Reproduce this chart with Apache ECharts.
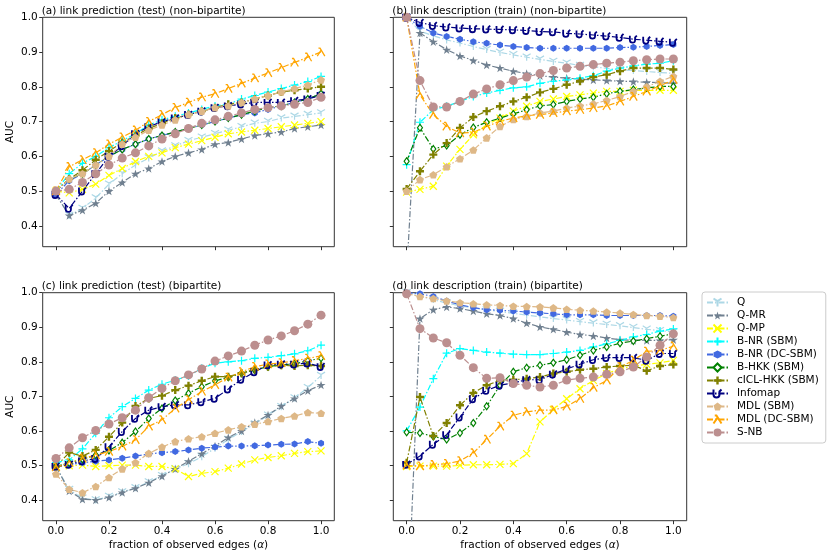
<!DOCTYPE html>
<html>
<head>
<meta charset="utf-8">
<script src="https://cdn.jsdelivr.net/npm/echarts@6/dist/echarts.min.js"></script>
<style>
  html, body { margin: 0; padding: 0; background: #fff; }
  #main { width: 830px; height: 557px; }
</style>
</head>
<body>
<div id="main"></div>
<script>
// fraction of observed edges
const alphas = [0, 0.05, 0.1, 0.15, 0.2, 0.25, 0.3, 0.35, 0.4, 0.45, 0.5, 0.55, 0.6, 0.65, 0.7, 0.75, 0.8, 0.85, 0.9, 0.95, 1.0];
const xTicks = [0, 0.2, 0.4, 0.6, 0.8, 1.0];
const yTicks = [0.4, 0.5, 0.6, 0.7, 0.8, 0.9, 1.0];
const methods = ['Q', 'Q-MR', 'Q-MP', 'B-NR (SBM)', 'B-NR (DC-SBM)', 'B-HKK (SBM)', 'cICL-HKK (SBM)', 'Infomap', 'MDL (SBM)', 'MDL (DC-SBM)', 'S-NB'];
const titles = ['(a) link prediction (test) (non-bipartite)', '(b) link description (train) (non-bipartite)',
                '(c) link prediction (test) (bipartite)', '(d) link description (train) (bipartite)'];

// (a) link prediction, non-bipartite
const aQ      = [0.49, 0.43, 0.45, 0.48, 0.52, 0.55, 0.575, 0.595, 0.615, 0.63, 0.645, 0.655, 0.665, 0.675, 0.685, 0.695, 0.70, 0.71, 0.715, 0.72, 0.725];
const aQMR    = [0.49, 0.43, 0.445, 0.465, 0.50, 0.525, 0.55, 0.565, 0.585, 0.60, 0.61, 0.62, 0.635, 0.64, 0.65, 0.66, 0.665, 0.67, 0.68, 0.685, 0.69];
const aQMP    = [0.50, 0.495, 0.505, 0.52, 0.545, 0.565, 0.585, 0.60, 0.61, 0.625, 0.635, 0.645, 0.655, 0.665, 0.67, 0.675, 0.68, 0.685, 0.69, 0.695, 0.70];
const aBNR    = [0.50, 0.55, 0.58, 0.60, 0.625, 0.645, 0.665, 0.69, 0.705, 0.715, 0.725, 0.735, 0.745, 0.75, 0.765, 0.775, 0.785, 0.795, 0.805, 0.815, 0.83];
const aBNRDC  = [0.49, 0.53, 0.55, 0.575, 0.60, 0.62, 0.635, 0.65, 0.66, 0.67, 0.68, 0.69, 0.70, 0.71, 0.72, 0.725, 0.735, 0.745, 0.755, 0.765, 0.78];
const aBHKK   = [0.50, 0.535, 0.55, 0.575, 0.60, 0.62, 0.635, 0.65, 0.66, 0.67, 0.68, 0.69, 0.70, 0.71, 0.72, 0.73, 0.74, 0.745, 0.755, 0.765, 0.78];
const aCICL   = [0.50, 0.535, 0.56, 0.59, 0.615, 0.64, 0.66, 0.68, 0.695, 0.71, 0.72, 0.73, 0.74, 0.75, 0.755, 0.765, 0.775, 0.785, 0.79, 0.795, 0.80];
const aInfo   = [0.49, 0.45, 0.50, 0.55, 0.60, 0.63, 0.665, 0.685, 0.70, 0.71, 0.72, 0.73, 0.74, 0.745, 0.75, 0.755, 0.755, 0.755, 0.76, 0.765, 0.775];
const aMDL    = [0.50, 0.535, 0.55, 0.575, 0.60, 0.635, 0.655, 0.675, 0.69, 0.705, 0.72, 0.73, 0.74, 0.745, 0.755, 0.765, 0.775, 0.785, 0.795, 0.805, 0.82];
const aMDLDC  = [0.50, 0.57, 0.59, 0.61, 0.635, 0.655, 0.675, 0.70, 0.72, 0.74, 0.755, 0.77, 0.78, 0.795, 0.81, 0.825, 0.84, 0.855, 0.87, 0.885, 0.90];
const aSNB    = [0.50, 0.505, 0.525, 0.55, 0.575, 0.595, 0.61, 0.63, 0.65, 0.665, 0.68, 0.695, 0.705, 0.715, 0.725, 0.735, 0.74, 0.745, 0.75, 0.755, 0.77];

// (b) link description, non-bipartite
const bQ      = [1.0, 0.96, 0.947, 0.935, 0.926, 0.916, 0.907, 0.899, 0.892, 0.885, 0.879, 0.873, 0.868, 0.861, 0.858, 0.853, 0.849, 0.847, 0.844, 0.841, 0.839];
const bQMR    = [0.26, 0.955, 0.93, 0.907, 0.889, 0.876, 0.863, 0.854, 0.845, 0.838, 0.832, 0.828, 0.825, 0.822, 0.82, 0.818, 0.816, 0.815, 0.813, 0.812, 0.81];
const bQMP    = [0.497, 0.505, 0.514, 0.572, 0.62, 0.662, 0.691, 0.71, 0.73, 0.744, 0.758, 0.765, 0.772, 0.777, 0.782, 0.787, 0.787, 0.79, 0.79, 0.79, 0.79];
const bBNR    = [0.576, 0.698, 0.734, 0.744, 0.758, 0.772, 0.782, 0.79, 0.797, 0.80, 0.81, 0.816, 0.82, 0.825, 0.832, 0.845, 0.854, 0.86, 0.865, 0.868, 0.875];
const bBNRDC  = [1.0, 0.974, 0.955, 0.945, 0.937, 0.93, 0.925, 0.92, 0.916, 0.913, 0.911, 0.911, 0.911, 0.911, 0.911, 0.911, 0.913, 0.914, 0.916, 0.919, 0.922];
const bBHKK   = [0.586, 0.682, 0.621, 0.631, 0.662, 0.683, 0.698, 0.71, 0.722, 0.734, 0.745, 0.749, 0.758, 0.765, 0.77, 0.78, 0.787, 0.792, 0.797, 0.801, 0.801];
const bCICL   = [0.506, 0.557, 0.605, 0.638, 0.682, 0.713, 0.73, 0.744, 0.758, 0.77, 0.784, 0.794, 0.806, 0.816, 0.828, 0.835, 0.845, 0.854, 0.854, 0.854, 0.85];
const bInfo   = [1.0, 0.985, 0.976, 0.972, 0.969, 0.967, 0.966, 0.965, 0.964, 0.962, 0.959, 0.958, 0.954, 0.952, 0.949, 0.946, 0.942, 0.937, 0.934, 0.931, 0.928];
const bMDL    = [0.50, 0.533, 0.547, 0.57, 0.593, 0.618, 0.653, 0.686, 0.706, 0.715, 0.725, 0.73, 0.739, 0.745, 0.751, 0.761, 0.772, 0.787, 0.80, 0.816, 0.83];
const bMDLDC  = [1.0, 0.777, 0.72, 0.686, 0.667, 0.669, 0.686, 0.701, 0.71, 0.717, 0.72, 0.725, 0.73, 0.734, 0.739, 0.745, 0.758, 0.772, 0.787, 0.803, 0.82];
const bSNB    = [1.0, 0.818, 0.742, 0.742, 0.758, 0.779, 0.794, 0.806, 0.818, 0.828, 0.838, 0.847, 0.854, 0.859, 0.864, 0.868, 0.871, 0.875, 0.878, 0.88, 0.88];

// (c) link prediction, bipartite
const cQ      = [0.497, 0.43, 0.405, 0.40, 0.41, 0.423, 0.435, 0.452, 0.47, 0.49, 0.505, 0.525, 0.55, 0.575, 0.598, 0.62, 0.645, 0.67, 0.695, 0.725, 0.76];
const cQMR    = [0.497, 0.426, 0.402, 0.40, 0.407, 0.422, 0.434, 0.45, 0.469, 0.49, 0.512, 0.534, 0.556, 0.581, 0.60, 0.624, 0.646, 0.672, 0.694, 0.716, 0.733];
const cQMP    = [0.497, 0.499, 0.501, 0.497, 0.499, 0.501, 0.501, 0.497, 0.497, 0.49, 0.468, 0.477, 0.482, 0.492, 0.504, 0.516, 0.523, 0.528, 0.535, 0.54, 0.542];
const cBNR    = [0.508, 0.516, 0.548, 0.593, 0.638, 0.67, 0.694, 0.718, 0.735, 0.747, 0.759, 0.781, 0.796, 0.80, 0.803, 0.81, 0.813, 0.818, 0.823, 0.832, 0.848];
const cBNRDC  = [0.497, 0.502, 0.508, 0.512, 0.516, 0.521, 0.527, 0.533, 0.537, 0.54, 0.545, 0.55, 0.553, 0.556, 0.556, 0.557, 0.559, 0.561, 0.562, 0.569, 0.564];
const cBHKK   = [0.497, 0.507, 0.518, 0.53, 0.543, 0.566, 0.598, 0.636, 0.665, 0.688, 0.709, 0.728, 0.745, 0.755, 0.767, 0.776, 0.786, 0.791, 0.794, 0.803, 0.81];
const cCICL   = [0.497, 0.537, 0.527, 0.545, 0.583, 0.624, 0.672, 0.694, 0.702, 0.718, 0.731, 0.745, 0.757, 0.757, 0.767, 0.778, 0.786, 0.79, 0.788, 0.79, 0.788];
const cInfo   = [0.497, 0.503, 0.513, 0.52, 0.554, 0.598, 0.636, 0.66, 0.67, 0.675, 0.675, 0.684, 0.694, 0.721, 0.749, 0.771, 0.791, 0.793, 0.793, 0.796, 0.786];
const cMDL    = [0.475, 0.431, 0.421, 0.439, 0.465, 0.49, 0.508, 0.535, 0.553, 0.569, 0.577, 0.583, 0.593, 0.603, 0.612, 0.619, 0.627, 0.636, 0.643, 0.653, 0.651];
const cMDLDC  = [0.495, 0.507, 0.52, 0.53, 0.54, 0.555, 0.574, 0.613, 0.632, 0.665, 0.69, 0.714, 0.733, 0.755, 0.771, 0.786, 0.793, 0.797, 0.803, 0.81, 0.817];
const cSNB    = [0.52, 0.551, 0.58, 0.601, 0.62, 0.638, 0.66, 0.696, 0.723, 0.745, 0.762, 0.779, 0.802, 0.817, 0.831, 0.848, 0.863, 0.875, 0.89, 0.909, 0.935];

// (d) link description, bipartite
const dQ      = [1.0, 0.99, 0.98, 0.97, 0.962, 0.956, 0.95, 0.946, 0.94, 0.935, 0.93, 0.925, 0.921, 0.916, 0.912, 0.908, 0.904, 0.899, 0.894, 0.89, 0.887];
const dQMR    = [0.0, 0.925, 0.951, 0.959, 0.954, 0.947, 0.939, 0.934, 0.925, 0.912, 0.901, 0.894, 0.886, 0.879, 0.875, 0.869, 0.864, 0.862, 0.862, 0.862, 0.864];
const dQMP    = [0.497, 0.498, 0.498, 0.498, 0.50, 0.502, 0.502, 0.503, 0.505, 0.534, 0.626, 0.662, 0.693, 0.722, 0.746, 0.766, 0.78, 0.787, 0.793, 0.797, 0.804];
const dBNR    = [0.60, 0.669, 0.751, 0.825, 0.838, 0.833, 0.828, 0.825, 0.822, 0.821, 0.821, 0.824, 0.828, 0.833, 0.843, 0.852, 0.862, 0.872, 0.879, 0.889, 0.895];
const dBNRDC  = [1.0, 0.997, 0.989, 0.976, 0.965, 0.957, 0.951, 0.949, 0.947, 0.944, 0.941, 0.939, 0.936, 0.936, 0.936, 0.934, 0.934, 0.934, 0.934, 0.934, 0.932];
const dBHKK   = [0.596, 0.594, 0.584, 0.575, 0.594, 0.623, 0.671, 0.732, 0.771, 0.783, 0.79, 0.797, 0.806, 0.819, 0.833, 0.843, 0.854, 0.86, 0.867, 0.874, 0.881];
const dCICL   = [0.508, 0.698, 0.585, 0.623, 0.674, 0.71, 0.732, 0.746, 0.748, 0.751, 0.756, 0.766, 0.771, 0.777, 0.78, 0.785, 0.788, 0.79, 0.774, 0.788, 0.792];
const dInfo   = [0.503, 0.527, 0.561, 0.589, 0.64, 0.693, 0.717, 0.732, 0.739, 0.748, 0.748, 0.764, 0.779, 0.793, 0.806, 0.812, 0.812, 0.812, 0.804, 0.824, 0.824];
const dMDL    = [0.997, 0.989, 0.983, 0.976, 0.971, 0.968, 0.965, 0.963, 0.961, 0.96, 0.959, 0.956, 0.952, 0.949, 0.947, 0.944, 0.941, 0.937, 0.934, 0.932, 0.928];
const dMDLDC  = [0.50, 0.498, 0.502, 0.505, 0.513, 0.536, 0.575, 0.613, 0.645, 0.655, 0.66, 0.66, 0.671, 0.693, 0.725, 0.746, 0.785, 0.804, 0.83, 0.833, 0.845];
const dSNB    = [0.997, 0.896, 0.869, 0.855, 0.819, 0.783, 0.752, 0.754, 0.737, 0.732, 0.727, 0.732, 0.747, 0.752, 0.756, 0.764, 0.771, 0.785, 0.814, 0.848, 0.881];

const panels = [
  [aQ, aQMR, aQMP, aBNR, aBNRDC, aBHKK, aCICL, aInfo, aMDL, aMDLDC, aSNB],
  [bQ, bQMR, bQMP, bBNR, bBNRDC, bBHKK, bCICL, bInfo, bMDL, bMDLDC, bSNB],
  [cQ, cQMR, cQMP, cBNR, cBNRDC, cBHKK, cCICL, cInfo, cMDL, cMDLDC, cSNB],
  [dQ, dQMR, dQMP, dBNR, dBNRDC, dBHKK, dCICL, dInfo, dMDL, dMDLDC, dSNB]
];

// marker / colour per method (matplotlib-like); "stroke" markers are outlines only
const looks = [
  { color: '#add8e6', symbol: 'path://M5,5 L5,10 M5,5 L0.7,2.5 M5,5 L9.3,2.5', size: 8, stroke: 1.2 },
  { color: '#708090', symbol: 'path://M50,0 L61,35 L98,35 L68,57 L79,91 L50,70 L21,91 L32,57 L2,35 L39,35 Z', size: 9 },
  { color: '#ffff00', symbol: 'path://M0,0 L10,10 M10,0 L0,10', size: 7, stroke: 1.2 },
  { color: '#00ffff', symbol: 'path://M5,0 L5,10 M0,5 L10,5', size: 8, stroke: 1.2 },
  { color: '#4169e1', symbol: 'path://M50,0 L93,25 L93,75 L50,100 L7,75 L7,25 Z', size: 7 },
  { color: '#008000', symbol: 'diamond', size: [5, 7], hollow: true },
  { color: '#808000', symbol: 'path://M35,0 H65 V35 H100 V65 H65 V100 H35 V65 H0 V35 H35 Z', size: 8 },
  { color: '#000080', symbol: 'path://M2,1 L2,6 Q2,9 5,9 Q8,9 8,6 L8,3 L10,1', size: 7, stroke: 1.8 },
  { color: '#deb887', symbol: 'path://M50,0 L98,35 L79,91 L21,91 L2,35 Z', size: 8 },
  { color: '#ffa500', symbol: 'path://M2,0 L4,0 L10,10 M5.3,2.6 L0.5,10', size: 8, stroke: 1.3 },
  { color: '#bc8f8f', symbol: 'circle', size: 9 }
];

const grids = [
  { left: 42.7, top: 17.3, width: 291.6, height: 229.4 },
  { left: 393.3, top: 17.3, width: 293.4, height: 229.4 },
  { left: 42.7, top: 292.7, width: 291.6, height: 228 },
  { left: 393.3, top: 292.7, width: 293.4, height: 228 }
];

const FONT = 'DejaVu Sans';
const series = [];
panels.forEach((vals, p) => {
  vals.forEach((ys, m) => {
    const lk = looks[m];
    let itemStyle;
    if (lk.hollow) itemStyle = { color: '#fff', borderColor: lk.color, borderWidth: 1.2 };
    else if (lk.stroke) itemStyle = { color: 'rgba(0,0,0,0)', borderColor: lk.color, borderWidth: lk.stroke };
    else itemStyle = { color: lk.color, borderWidth: 0 };
    series.push({
      type: 'line',
      name: methods[m],
      xAxisIndex: p,
      yAxisIndex: p,
      data: alphas.map((a, k) => [a, ys[k]]),
      symbol: lk.symbol,
      symbolSize: lk.size,
      symbolKeepAspect: true,
      showAllSymbol: true,
      itemStyle: itemStyle,
      lineStyle: { color: lk.color, width: 1.2, type: [6, 2, 1.5, 2] },
      emphasis: { disabled: true },
      animation: false
    });
  });
});

const chart = echarts.init(document.getElementById('main'));
chart.setOption({
  backgroundColor: '#fff',
  animation: false,
  title: titles.map((t, i) => ({
    text: t,
    left: grids[i].left - 1,
    top: grids[i].top - 12,
    padding: 0,
    textStyle: { fontFamily: FONT, fontSize: 10.5, fontWeight: 'normal', color: '#000' }
  })),
  legend: {
    data: methods,
    orient: 'vertical',
    left: 702,
    top: 292,
    padding: [5, 7, 5, 4],
    itemGap: 2,
    itemWidth: 21,
    itemHeight: 10,
    borderColor: '#cccccc',
    borderWidth: 1,
    borderRadius: 3,
    textStyle: { fontFamily: FONT, fontSize: 10.5, color: '#000', padding: [0, 0, 0, 4] }
  },
  grid: grids.map(g => Object.assign({ show: true, borderColor: '#333', borderWidth: 1, backgroundColor: 'transparent' }, g)),
  xAxis: grids.map((g, i) => ({
    type: 'value',
    gridIndex: i,
    min: -0.05,
    max: 1.05,
    axisLine: { show: false, onZero: false },
    axisTick: { show: true, customValues: xTicks, length: 3.5, lineStyle: { color: '#333' } },
    axisLabel: { show: i >= 2, customValues: xTicks, formatter: v => v.toFixed(1), fontFamily: FONT, fontSize: 10.5, color: '#000', margin: 5 },
    splitLine: { show: false },
    name: i >= 2 ? 'fraction of observed edges ({i|α})' : '',
    nameLocation: 'middle',
    nameGap: 19,
    nameTextStyle: { fontFamily: FONT, fontSize: 10.5, color: '#000', rich: { i: { fontFamily: FONT, fontSize: 10.5, fontStyle: 'italic' } } }
  })),
  yAxis: grids.map((g, i) => ({
    type: 'value',
    gridIndex: i,
    min: 0.34,
    max: 1.0,
    axisLine: { show: false, onZero: false },
    axisTick: { show: true, customValues: yTicks, length: 3.5, lineStyle: { color: '#333' } },
    axisLabel: { show: i % 2 === 0, customValues: yTicks, formatter: v => v.toFixed(1), fontFamily: FONT, fontSize: 10.5, color: '#000', margin: 5 },
    splitLine: { show: false },
    name: i % 2 === 0 ? 'AUC' : '',
    nameLocation: 'middle',
    nameRotate: 90,
    nameGap: 27,
    nameTextStyle: { fontFamily: FONT, fontSize: 10.5, color: '#000' }
  })),
  series: series
});
</script>
</body>
</html>
